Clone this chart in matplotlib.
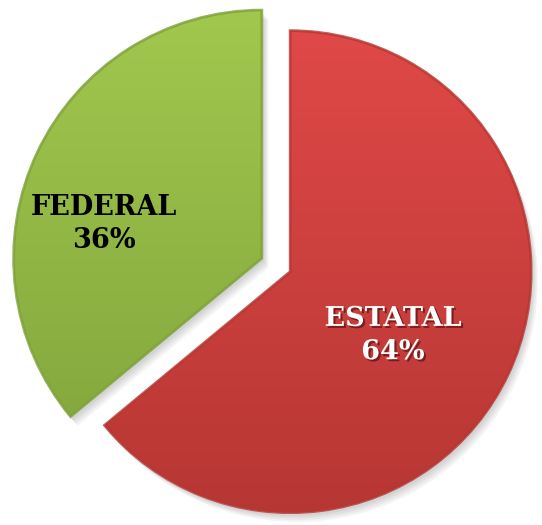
import numpy as np
import matplotlib.pyplot as plt
import matplotlib.patheffects as pe
from matplotlib.patches import PathPatch
from matplotlib.transforms import Affine2D
from matplotlib.colors import LinearSegmentedColormap

# data
labels = ["ESTATAL", "FEDERAL"]
shares = [64, 36]
colors_top = ["#e24a48", "#a3c84e"]
colors_bot = ["#b53633", "#7ea13a"]
text_colors = ["white", "black"]

W, H = 542, 525
scale = 241.0          # pixels per unit radius
cx, cy = 276, 265      # pie centre in pixels (from top-left)

fig = plt.figure(figsize=(W / 100, H / 100), dpi=100)
ax = fig.add_axes([0, 0, 1, 1])
ax.set_axis_off()

wedges, _ = ax.pie(shares, startangle=90, counterclock=False,
                   explode=[0.065, 0.065], radius=1.0,
                   colors=colors_top,
                   wedgeprops=dict(linewidth=0))
# the green slice is drawn a touch larger in the original
wedges[1].set_radius(1.03)

# soft shadow behind the slices
for w in wedges:
    for k in range(4):
        off = Affine2D().translate(0.01 + 0.006 * k, -0.015 - 0.008 * k)
        shadow = PathPatch(w.get_path().transformed(off), facecolor="black",
                           alpha=0.045, edgecolor="none", zorder=0)
        ax.add_patch(shadow)

# vertical gradient inside each slice
grad = np.linspace(0, 1, 256).reshape(-1, 1)
for w, ct, cb in zip(wedges, colors_top, colors_bot):
    cmap = LinearSegmentedColormap.from_list("g", [cb, ct])
    im = ax.imshow(grad, cmap=cmap, origin="lower", aspect="auto",
                   extent=[-1.2, 1.2, -1.1, 1.1], zorder=2)
    im.set_clip_path(w)
    w.set_zorder(1)
    # darker rim
    rim = PathPatch(w.get_path(), facecolor="none", edgecolor=cb,
                    linewidth=2.0, alpha=0.8, zorder=3)
    ax.add_patch(rim)

# labels
label_pos = [((393 - cx) / scale, (cy - 335) / scale),
             ((104 - cx) / scale, (cy - 224) / scale)]
for lab, val, (x, y), tc in zip(labels, shares, label_pos, text_colors):
    t = ax.text(x, y, f"{lab}\n{val}%", ha="center", va="center",
                fontsize=19.5, fontweight="bold", family="DejaVu Serif",
                color=tc, linespacing=1.3, zorder=5)
    if tc == "white":
        t.set_path_effects([pe.withSimplePatchShadow(offset=(1.5, -1.5),
                                                     shadow_rgbFace="#5a1010",
                                                     alpha=0.7)])

ax.set_aspect("auto")
ax.set_xlim(-cx / scale, (W - cx) / scale)
ax.set_ylim(-(H - cy) / scale, cy / scale)

fig.savefig("out.png", dpi=100)
